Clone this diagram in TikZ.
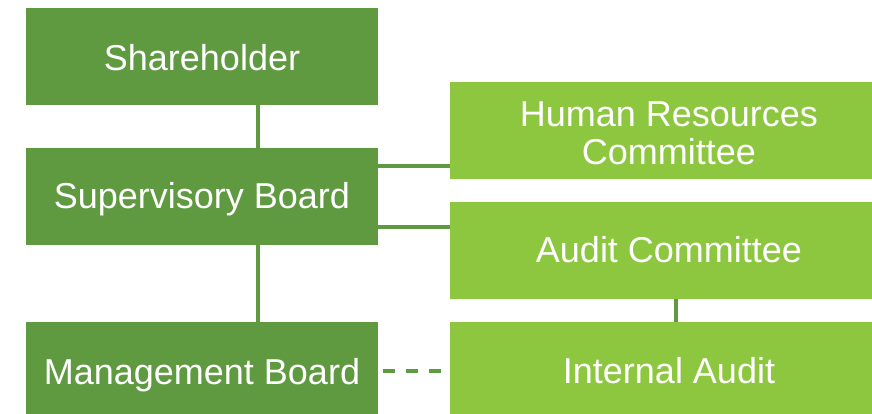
\documentclass[tikz,border=0pt]{standalone}
\usepackage{fontspec}
\setmainfont{Liberation Sans}
\definecolor{dkgreen}{HTML}{5F9A41}
\definecolor{ltgreen}{HTML}{8DC63F}
\begin{document}
\begin{tikzpicture}[x=1pt,y=-1pt,
  box/.style={fill=#1, draw=none, inner sep=0pt, text=white, align=center,
    font=\fontsize{36}{39}\selectfont, text depth=0pt},
  wide/.style={minimum width=352pt, minimum height=97pt},
  wideR/.style={minimum width=438pt, minimum height=97pt},
  link/.style={draw=dkgreen, line width=4pt}]
\useasboundingbox (0,0) rectangle (872,414);
\node[box=dkgreen, wide, text height=29pt] (sh) at (202,56.5) {Shareholder};
\node[box=dkgreen, wide, text height=23pt] (sb) at (202,196.5) {Supervisory Board};
\node[box=dkgreen, wide, text height=28pt] (mb) at (202,370.5) {Management Board};
\node[box=ltgreen, wideR, text height=69pt] (hr) at (669,130.5) {Human Resources\\Committee};
\node[box=ltgreen, wideR, text height=23.6pt] (ac) at (669,250.5) {Audit Committee};
\node[box=ltgreen, wideR, text height=25pt] (ia) at (669,370.5) {Internal Audit};
\draw[link] ([xshift=56pt]sh.south) -- ([xshift=56pt]sb.north);
\draw[link] ([xshift=56pt]sb.south) -- ([xshift=56pt]mb.north);
\draw[link] ([yshift=30pt]sb.east) coordinate (h1) -- (h1 -| hr.west);
\draw[link] ([yshift=-30.5pt]sb.east) coordinate (h2) -- (h2 -| ac.west);
\draw[link] ([xshift=7pt]ac.south) -- ([xshift=7pt]ia.north);
\draw[link, dash pattern=on 12pt off 11pt] ([xshift=5pt]mb.east) -- ([xshift=-8pt]ia.west);
\end{tikzpicture}
\end{document}
